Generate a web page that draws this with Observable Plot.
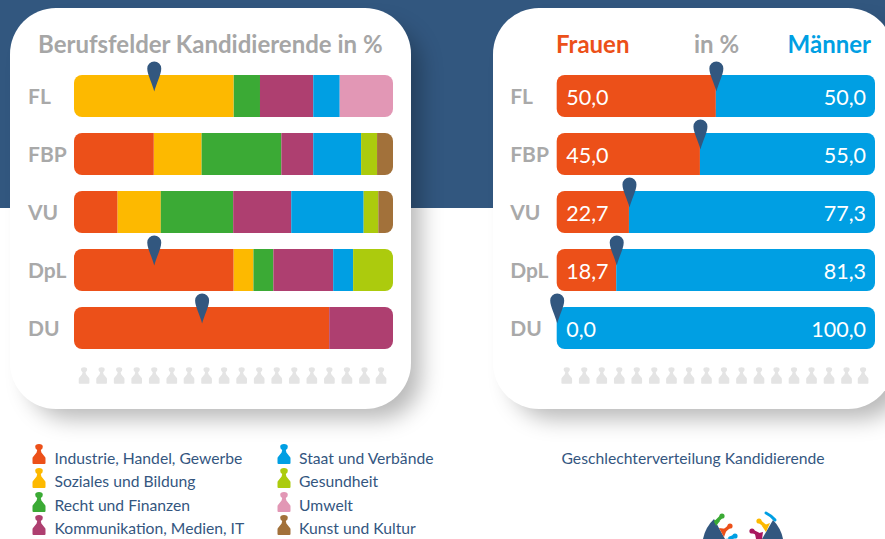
<!DOCTYPE html>
<html lang="de">
<head>
<meta charset="utf-8">
<script src="https://cdn.jsdelivr.net/npm/d3@7"></script>
<script src="https://cdn.jsdelivr.net/npm/@observablehq/plot@0.6"></script>
<style>
  html, body { margin: 0; background: #fff; }
  #page { position: relative; width: 885px; height: 539px; overflow: hidden; font-family: Lato, sans-serif; }
  #band { position: absolute; left: 0; top: 0; width: 885px; height: 208px; background: #32577f; }
  .card { position: absolute; top: 8px; width: 401px; height: 401px; background: #fff; border-radius: 46px;
          box-shadow: 14px 14px 22px -4px rgba(0,0,0,.28); }
  .chart { position: absolute; top: 58px; }
  .head { position: absolute; font-weight: 700; white-space: nowrap; line-height: 1; font-size: 24px; top: 31.5px; }
  #legend div { position: absolute; white-space: nowrap; color: #34567f; font-size: 15.7px; line-height: 1; }
  #legend svg { position: absolute; overflow: visible; }
  #caption { position: absolute; left: 561.5px; top: 451px; color: #34567f; font-size: 15.7px; line-height: 1; white-space: nowrap; }
  [aria-label="pin"] { filter: drop-shadow(1.5px 0.5px 1px rgba(0,0,0,.35)); }
  #logo { position: absolute; left: 700px; top: 508px; }
</style>
</head>
<body>
<div id="page">
  <div id="band"></div>
  <div class="card" style="left:10px"></div>
  <div class="card" style="left:493px"></div>
  <div class="head" style="left:38px;color:#a6a6a6">Berufsfelder Kandidierende in %</div>
  <div class="head" style="left:556px;color:#ec5019">Frauen</div>
  <div class="head" style="left:694px;color:#a6a6a6">in %</div>
  <div class="head" style="right:14px;color:#009fe3">Männer</div>
  <div id="legend"></div>
  <div id="caption">Geschlechterverteilung Kandidierende</div>
  <svg id="logo" width="86" height="31" viewBox="700 508 86 31">
    <path d="M703 539A37 37 0 0 1 714 519L725 539Z" fill="#32577f"/>
    <path d="M762 539L773 520A37 37 0 0 1 783 539Z" fill="#32577f"/>
    <g fill="none" stroke-linecap="round">
      <path d="M722 516L716 522" stroke="#3baa35" stroke-width="3.5"/><circle cx="722" cy="516" r="2.6" fill="#3baa35"/><path d="M714 520L720 521L716 526Z" fill="#3baa35"/>
      <path d="M730 526L724 531" stroke="#ec5019" stroke-width="3.5"/><circle cx="730" cy="526" r="2.6" fill="#ec5019"/><path d="M719 528L727 529L724 537Z" fill="#ec5019"/>
      <path d="M735 536L730 538" stroke="#009fe3" stroke-width="3.5"/><circle cx="735" cy="536" r="2.6" fill="#009fe3"/><path d="M725 539L733 538L734 539Z" fill="#009fe3"/>
      <path d="M766 513Q772 516 775 520" stroke="#009fe3" stroke-width="3"/>
      <path d="M759 521L765 526" stroke="#fdb900" stroke-width="3.5"/><circle cx="759" cy="521" r="2.6" fill="#fdb900"/><path d="M762 526L770 523L766 532Z" fill="#fdb900"/>
      <path d="M752 531L758 534" stroke="#a8175e" stroke-width="3.5"/><circle cx="752" cy="531" r="2.6" fill="#a8175e"/><path d="M755 534L763 532L762 539L756 539Z" fill="#a8175e"/>
    </g>
  </svg>
</div>
<script>
const parties = ["FL", "FBP", "VU", "DpL", "DU"];
const sectors = ["Industrie, Handel, Gewerbe", "Soziales und Bildung", "Recht und Finanzen", "Kommunikation, Medien, IT",
                 "Staat und Verbände", "Gesundheit", "Umwelt", "Kunst und Kultur"];
const sectorColors = ["#ec5019", "#fdb900", "#3baa35", "#ae3f70", "#009fe3", "#accb0d", "#e297b5", "#a2713a"];
const flShares  = [0, 50, 8.3, 16.7, 8.3, 0, 16.7, 0];
const fbpShares = [25, 15, 25, 10, 15, 5, 0, 5];
const vuShares  = [13.6, 13.6, 22.7, 18.2, 22.7, 4.6, 0, 4.6];
const dplShares = [50, 6.25, 6.25, 18.75, 6.25, 12.5, 0, 0];
const duShares  = [80, 0, 0, 20, 0, 0, 0, 0];
const sectorPins = [25, null, null, 25, 40];
const frauen = [50, 45, 22.7, 18.7, 0];
const maenner = [50, 55, 77.3, 81.3, 100];
const genders = ["Frauen", "Männer"];
const genderColors = ["#ec5019", "#009fe3"];
const pawnTicks = [3, 8.5, 14, 19.5, 25, 30.5, 35.9, 41.4, 46.9, 52.4, 57.9, 63.4, 68.9, 74.4, 79.9, 85.4, 90.9, 96.1];
const legendRows = [458, 481.7, 505.7, 528.7];

// Drop-shaped marker, tip at the anchor point
const pinSymbol = {draw(c) {
  c.moveTo(0, 0);
  c.bezierCurveTo(-2, -8, -7, -17, -7, -23);
  c.arc(0, -23, 7, Math.PI, 0);
  c.bezierCurveTo(7, -17, 2, -8, 0, 0);
  c.closePath();
}};
// Pawn figure, centred on the anchor point
function drawPawn(c, s) {
  const p = (a, b) => [a * s, b * s];
  const m = (a, b) => c.moveTo(...p(a, b)), l = (a, b) => c.lineTo(...p(a, b));
  const q = (a, b, d, e) => c.quadraticCurveTo(...p(a, b), ...p(d, e));
  m(-1.8, -4); q(-3.8, -5, -3.8, -7.2); q(-3.8, -10, 0, -10); q(3.8, -10, 3.8, -7.2); q(3.8, -5, 1.8, -4);
  l(2.4, -1.5); l(6.2, 3.2); q(6.5, 3.6, 6.5, 4.4); l(6.5, 9); q(6.5, 10, 5.5, 10); l(-5.5, 10); q(-6.5, 10, -6.5, 9);
  l(-6.5, 4.4); q(-6.5, 3.6, -6.2, 3.2); l(-2.4, -1.5); c.closePath();
}
const tickPawn = {draw(c) { drawPawn(c, 0.82); }};

// Turn shares into x1/x2 rows and note which ends of the pill each segment closes
function segments(party, values, names) {
  const nonzero = values.map((v, i) => ({v, name: names[i]})).filter(d => d.v > 0);
  let sum = 0;
  return nonzero.map((d, i) => {
    const row = {party, name: d.name, x1: sum, x2: sum + d.v,
                 first: i === 0, last: i === nonzero.length - 1};
    sum += d.v;
    return row;
  });
}
function pillBars(rows) {
  const base = {x1: "x1", x2: "x2", y: "party", fill: "name"};
  return [
    Plot.barX(rows.filter(d => !d.first && !d.last), base),
    Plot.barX(rows.filter(d => d.first && !d.last), {...base, rx1: 8}),
    Plot.barX(rows.filter(d => !d.first && d.last), {...base, rx2: 8}),
    Plot.barX(rows.filter(d => d.first && d.last), {...base, r: 8})
  ];
}
const yDomain = [...parties, " "];
const common = {
  height: 335,
  margin: 0,
  style: {background: "transparent", fontFamily: "Lato, sans-serif", overflow: "visible"},
  y: {domain: yDomain, range: [17, 349], paddingInner: 16 / 58, paddingOuter: 0, axis: null}
};
const partyAxis = tickPadding => Plot.axisY(parties, {tickSize: 0, tickPadding, textAnchor: "start", dy: 1,
  fontSize: 21, fontWeight: 700, fill: "#a9a9a9", label: null});
const pawnRow = Plot.dot(pawnTicks, {x: d => d, y: () => " ", dy: -11, symbol: tickPawn, fill: "#e4e4e4"});
const pins = values => Plot.dot(parties.map((party, i) => ({party, v: values[i]})).filter(d => d.v != null),
  {x: "v", y: "party", dy: -5, symbol: pinSymbol, fill: "#32577f", ariaLabel: "pin"});

const sectorRows = [
  ...segments("FL", flShares, sectors), ...segments("FBP", fbpShares, sectors), ...segments("VU", vuShares, sectors),
  ...segments("DpL", dplShares, sectors), ...segments("DU", duShares, sectors)
];
const left = Plot.plot({
  ...common, width: 442, marginLeft: 74, marginRight: 49,
  x: {domain: [0, 100], axis: null},
  color: {domain: sectors, range: sectorColors},
  marks: [...pillBars(sectorRows), partyAxis(46.5), pawnRow, pins(sectorPins)]
});

const genderRows = parties.flatMap((p, i) => segments(p, [frauen[i], maenner[i]], genders));
const labelRows = parties.map((party, i) => ({party, f: frauen[i], m: maenner[i]}));
const comma = v => v.toFixed(1).replace(".", ",");
const right = Plot.plot({
  ...common, width: 443, marginLeft: 114.7, marginRight: 10,
  x: {domain: [0, 100], axis: null},
  color: {domain: genders, range: genderColors},
  marks: [
    ...pillBars(genderRows),
    partyAxis(47),
    Plot.text(labelRows, {x: () => 0, y: "party", text: d => comma(d.f), dx: 9, dy: 1.5, textAnchor: "start", fill: "#fff", fontSize: 21.5}),
    Plot.text(labelRows, {x: () => 100, y: "party", text: d => comma(d.m), dx: -9.5, dy: 1.5, textAnchor: "end", fill: "#fff", fontSize: 21.5}),
    pawnRow,
    pins(frauen)
  ]
});
left.classList.add("chart"); left.style.left = "0px";
right.classList.add("chart"); right.style.left = "442px";
const page = document.getElementById("page");
page.append(left, right);

// Legend under the left card
const legend = document.getElementById("legend");
sectors.forEach((name, i) => {
  const col = i < 4 ? 0 : 1, row = i % 4;
  const rowY = legendRows[row];
  const iconX = col ? 283.5 : 38.5, textX = col ? 299 : 54.5;
  const d = d3.path(); drawPawn(d, 1);
  const ns = "http://www.w3.org/2000/svg";
  const svg = document.createElementNS(ns, "svg");
  svg.setAttribute("width", 1); svg.setAttribute("height", 1);
  svg.style.left = iconX + "px"; svg.style.top = (rowY - 4) + "px";
  const path = document.createElementNS(ns, "path");
  path.setAttribute("d", d.toString()); path.setAttribute("fill", sectorColors[i]);
  svg.append(path);
  const label = document.createElement("div");
  label.textContent = name;
  label.style.left = textX + "px"; label.style.top = (rowY - 7.5) + "px";
  legend.append(svg, label);
});
</script>
</body>
</html>
